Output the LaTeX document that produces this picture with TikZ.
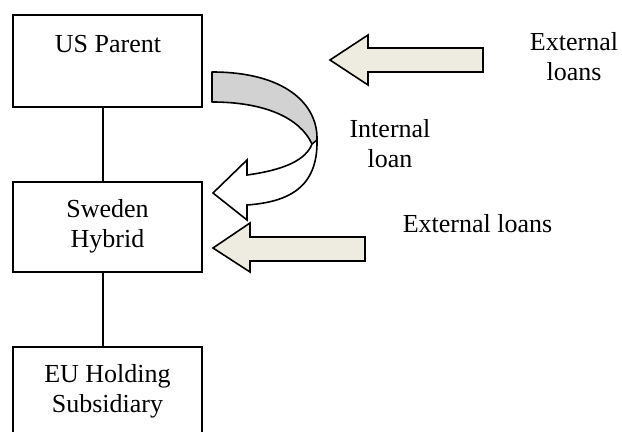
\documentclass[tikz,border=0pt]{standalone}
\usepackage{fontspec}
\setmainfont{Liberation Serif}
\begin{document}
\begin{tikzpicture}[x=0.5pt,y=-0.5pt,
  box/.style={draw,line width=0.8pt,inner sep=0pt,minimum width=94.5pt,minimum height=#1},
  lbl/.style={font=\fontsize{13}{15}\selectfont,inner sep=0pt,align=center},
  fatarrow/.style={draw,line width=0.8pt,fill=arrowfill,line join=miter},
  conn/.style={line width=0.8pt}]
\definecolor{arrowfill}{RGB}{238,236,225}
\definecolor{backgray}{RGB}{210,210,210}
\useasboundingbox (0,0) rectangle (622,432);
% boxes
\node[box=46pt] (us) at (107.5,61) {};
\node[box=45pt] (sw) at (107.5,227) {};
\begin{scope}
\clip (0,0) rectangle (622,432);
\node[box=49pt] (eu) at (107.5,396) {};
\end{scope}
% labels
\node[lbl,anchor=base] (uslbl) at (108,53) {US Parent};
\node[lbl] (swlbl) at (107.5,226) {Sweden\\Hybrid};
\node[lbl] (eulbl) at (107.5,391) {EU Holding\\Subsidiary};
\node[lbl] (intl) at (390,144) {Internal\\loan};
\node[lbl] (ext1) at (574,57) {External\\loans};
\node[lbl,anchor=base] (ext2) at (477.5,233) {External loans};
% connectors
\coordinate (v) at (103,0);
\draw[conn] (us.south -| v) -- (sw.north -| v);
\draw[conn] (sw.south -| v) -- (eu.north -| v);
% straight arrows
\draw[fatarrow] (330,60) -- (368,35) -- (368,48) -- (483,48) -- (483,72) -- (368,72) -- (368,85) -- cycle;
\draw[fatarrow] (213,248) -- (250,223) -- (250,237) -- (365,237) -- (365,261) -- (250,261) -- (250,272) -- cycle;
% curved arrow: back (gray) part
\draw[line width=0.8pt,fill=backgray,line join=round]
  (212,72) .. controls (285,72) and (317,104) .. (317,138) -- (317,144) -- (312,144)
  .. controls (300,118) and (265,102) .. (212,102) -- cycle;
% front (white) part
\draw[line width=0.8pt,fill=white,line join=miter]
  (317,140) .. controls (318,188) and (288,202) .. (247,205) -- (247,220) -- (213,193) -- (247,160) -- (247,175)
  .. controls (284,170) and (306,160) .. (312,144) -- cycle;
\end{tikzpicture}
\end{document}
